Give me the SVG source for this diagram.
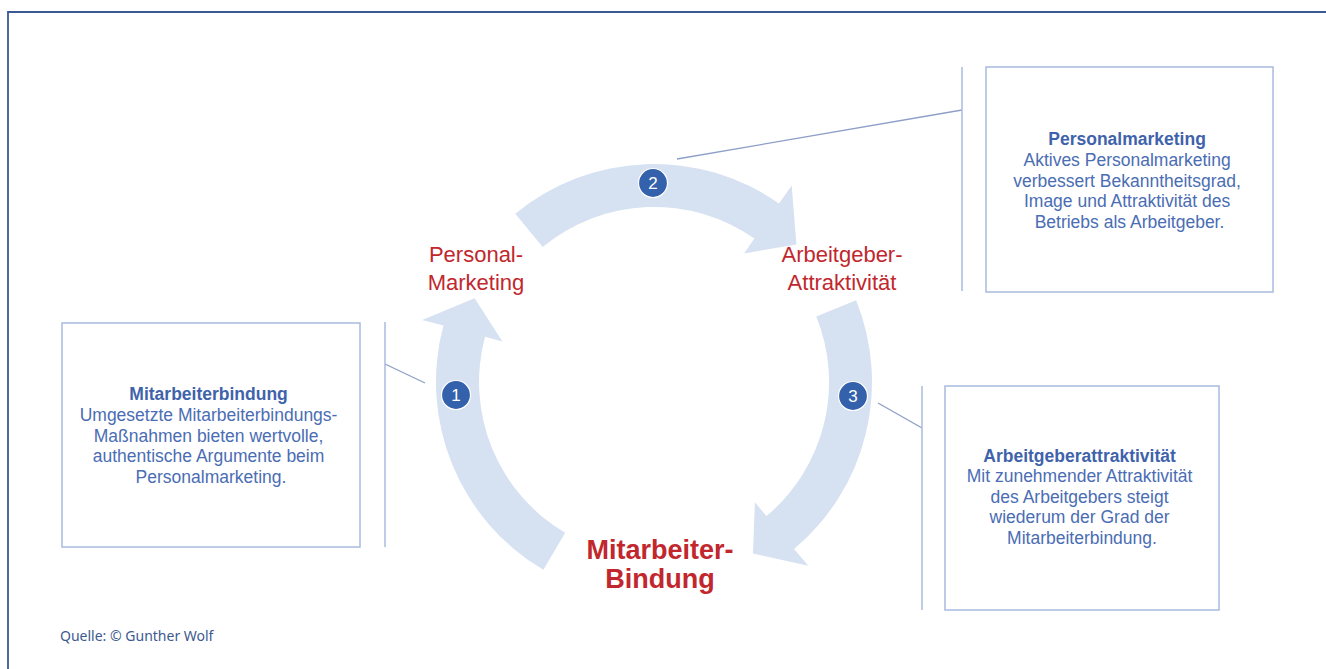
<svg xmlns="http://www.w3.org/2000/svg" width="1326" height="669" viewBox="0 0 1326 669">
  <style>
    .frame { fill: none; stroke: #3a5a96; stroke-width: 1.8; }
    .band { fill: #d6e1f2; }
    .badge { fill: #3461ab; stroke: #ffffff; stroke-width: 1.2; }
    .num { font-family: "Liberation Sans", Arial, sans-serif; font-size: 17px; fill: #ffffff; text-anchor: middle; }
    .lbl { font-family: "Liberation Sans", Arial, sans-serif; font-size: 22px; fill: #c1272d; text-anchor: middle; }
    .lblb { font-family: "Liberation Sans", Arial, sans-serif; font-size: 27px; font-weight: bold; fill: #c1272d; text-anchor: middle; }
    .box { fill: #ffffff; stroke: #a9bbe0; stroke-width: 1.5; }
    .bar { stroke: #a9bbe0; stroke-width: 1.5; fill: none; }
    .conn { stroke: #8d9fc8; stroke-width: 1.3; fill: none; }
    .bt { font-family: "Liberation Sans", Arial, sans-serif; font-size: 17.5px; fill: #4a6db3; text-anchor: middle; }
    .bt .h { font-weight: bold; fill: #3f63ab; }
    .src { font-family: "Noto Sans", "Open Sans", sans-serif; font-size: 14px; fill: #3d5a8f; }
  </style>

  <!-- frame -->
  <path class="frame" d="M8,669 L8,12 L1326,12"/>

  <!-- cycle arrows -->
  <g id="arrow1">
    <path class="band" d="M543.4,569.8 A218,218 0 0 1 443.4,325.6 L422.2,319.9 L474.6,298.3 L502.4,341.4 L485.0,336.7 A175,175 0 0 0 565.2,532.8 Z"/>
  </g>
  <g id="arrow2">
    <path class="band" d="M515.3,213.8 A218,218 0 0 1 779.0,203.4 L791.7,185.4 L796.4,244.4 L744.1,253.4 L754.4,238.6 A175,175 0 0 0 542.7,247.0 Z"/>
  </g>
  <g id="arrow3">
    <path class="band" d="M856.1,300.3 A218,218 0 0 1 794.1,549.0 L808.3,565.8 L753.0,553.5 L754.9,502.3 L766.5,516.1 A175,175 0 0 0 816.3,316.4 Z"/>
  </g>

  <!-- connectors -->
  <g id="connectors">
    <line class="conn" x1="385" y1="364" x2="425" y2="383"/>
    <line class="conn" x1="677" y1="159" x2="962" y2="110"/>
    <line class="conn" x1="878" y1="403" x2="922" y2="428"/>
  </g>

  <!-- badges -->
  <g id="badge1"><circle class="badge" cx="456" cy="395" r="14.5"/><text class="num" x="456" y="401">1</text></g>
  <g id="badge2"><circle class="badge" cx="653" cy="183" r="14.5"/><text class="num" x="653" y="189">2</text></g>
  <g id="badge3"><circle class="badge" cx="853" cy="396" r="14.5"/><text class="num" x="853" y="402">3</text></g>

  <!-- cycle labels -->
  <g id="label-personalmarketing">
    <text class="lbl" x="476" y="262">Personal-</text>
    <text class="lbl" x="476" y="290">Marketing</text>
  </g>
  <g id="label-arbeitgeber">
    <text class="lbl" x="842" y="262">Arbeitgeber-</text>
    <text class="lbl" x="842" y="290">Attraktivität</text>
  </g>
  <g id="label-mitarbeiterbindung">
    <text class="lblb" x="660" y="559">Mitarbeiter-</text>
    <text class="lblb" x="660" y="588">Bindung</text>
  </g>

  <!-- info box 1 -->
  <g id="box-mitarbeiterbindung">
    <rect class="box" x="62" y="323" width="298" height="224"/>
    <line class="bar" x1="385" y1="322" x2="385" y2="547"/>
    <text class="bt" x="211">
      <tspan class="h" x="211" y="400">Mitarbeiterbindung</tspan>
      <tspan x="211" y="421">Umgesetzte Mitarbeiterbindungs-</tspan>
      <tspan x="211" y="441.5">Maßnahmen bieten wertvolle,</tspan>
      <tspan x="211" y="462">authentische Argumente beim</tspan>
      <tspan x="211" y="482.5">Personalmarketing.</tspan>
    </text>
  </g>

  <!-- info box 2 -->
  <g id="box-personalmarketing">
    <rect class="box" x="986" y="67" width="287" height="225"/>
    <line class="bar" x1="962" y1="67" x2="962" y2="291"/>
    <text class="bt" x="1129.5">
      <tspan class="h" x="1129.5" y="145">Personalmarketing</tspan>
      <tspan x="1129.5" y="166">Aktives Personalmarketing</tspan>
      <tspan x="1129.5" y="186.5">verbessert Bekanntheitsgrad,</tspan>
      <tspan x="1129.5" y="207">Image und Attraktivität des</tspan>
      <tspan x="1129.5" y="227.5">Betriebs als Arbeitgeber.</tspan>
    </text>
  </g>

  <!-- info box 3 -->
  <g id="box-arbeitgeberattraktivitaet">
    <rect class="box" x="945" y="386" width="274" height="224"/>
    <line class="bar" x1="922" y1="386" x2="922" y2="610"/>
    <text class="bt" x="1082">
      <tspan class="h" x="1082" y="462">Arbeitgeberattraktivität</tspan>
      <tspan x="1082" y="482">Mit zunehmender Attraktivität</tspan>
      <tspan x="1082" y="502.5">des Arbeitgebers steigt</tspan>
      <tspan x="1082" y="523">wiederum der Grad der</tspan>
      <tspan x="1082" y="543.5">Mitarbeiterbindung.</tspan>
    </text>
  </g>

  <!-- source -->
  <text class="src" x="60" y="641">Quelle: © Gunther Wolf</text>
</svg>
